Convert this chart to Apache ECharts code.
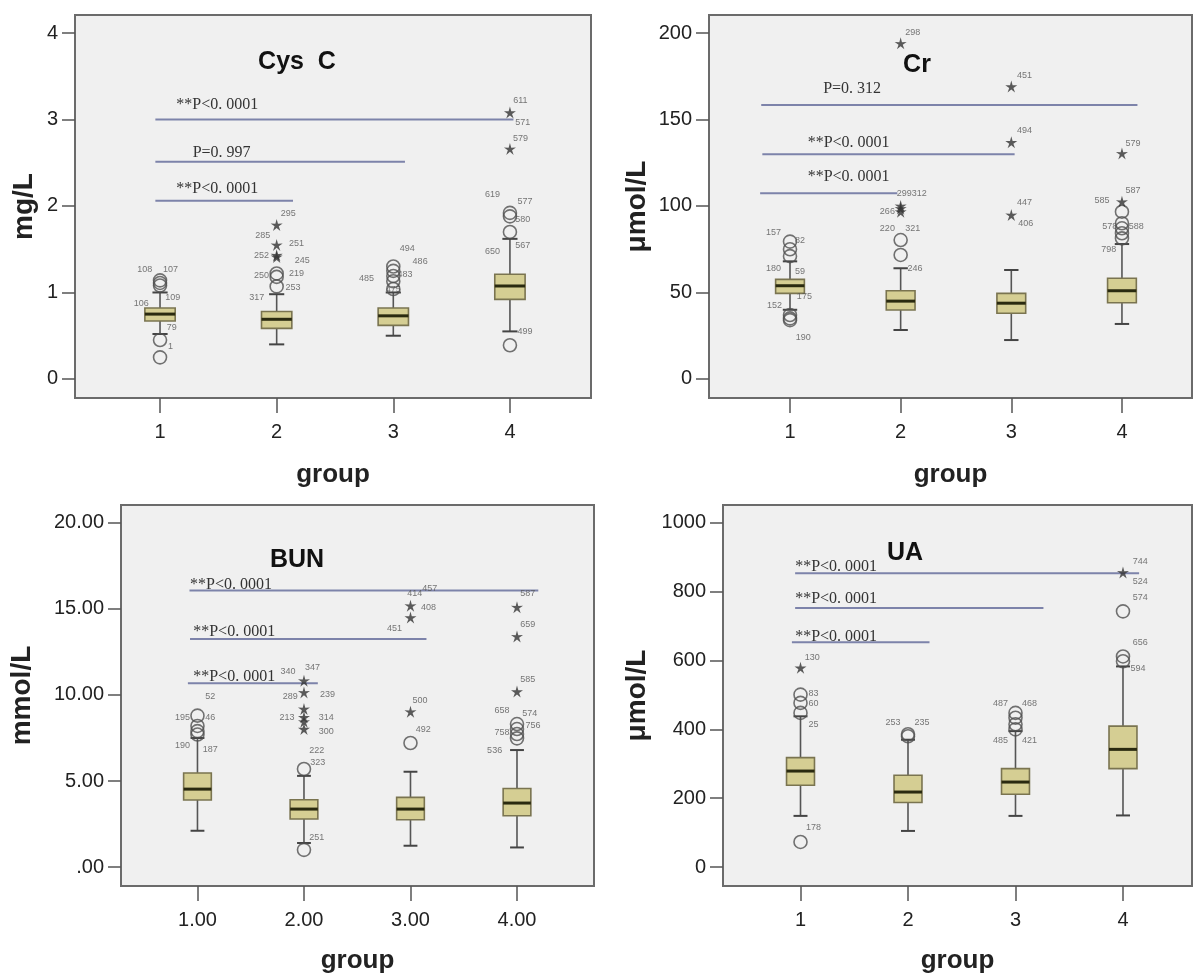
<!DOCTYPE html>
<html><head><meta charset="utf-8">
<script src="https://cdn.jsdelivr.net/npm/echarts@6/dist/echarts.min.js"></script>
<style>html,body{margin:0;padding:0;background:#fff}#c{width:1193px;height:975px}</style>
</head><body><div id="c"></div>
<script>
const groups = [1, 2, 3, 4];

// ---- Cys C (mg/L) ----  box rows: [group, low, q1, median, q3, high]
const cysBoxes = [[1,0.52,0.67,0.75,0.82,1.00],[2,0.40,0.585,0.69,0.78,0.98],[3,0.50,0.62,0.73,0.82,1.00],[4,0.55,0.92,1.075,1.21,1.62]];
const cysCircles = [[1,1.08],[1,1.11],[1,1.14],[1,0.45],[1,0.25],[2,1.07],[2,1.18],[2,1.22],[3,1.04],[3,1.13],[3,1.19],[3,1.25],[3,1.30],[4,1.70],[4,1.88],[4,1.92],[4,0.39]];
const cysStars = [[2,1.78],[2,1.55],[2,1.43],[2,1.41],[4,3.08],[4,2.66]];
const cysLabels = [[0.87,1.27,'108'],[1.09,1.27,'107'],[1.11,0.94,'109'],[0.84,0.87,'106'],[1.10,0.59,'79'],[1.09,0.37,'1'],
 [2.10,1.91,'295'],[1.88,1.66,'285'],[2.17,1.57,'251'],[1.87,1.43,'252'],[2.22,1.37,'245'],[1.87,1.20,'250'],[2.17,1.22,'219'],[2.14,1.06,'253'],[1.83,0.94,'317'],
 [3.12,1.51,'494'],[3.23,1.36,'486'],[3.10,1.21,'483'],[2.77,1.16,'485'],[3.0,1.04,'475'],
 [4.09,3.22,'611'],[4.11,2.96,'571'],[4.09,2.78,'579'],[3.85,2.13,'619'],[4.13,2.05,'577'],[4.11,1.84,'580'],[3.85,1.47,'650'],[4.11,1.54,'567'],[4.13,0.55,'499']];
// tests: [fromX, toX, y, text, textLeftX, textY]
const cysTests = [[0.96,4.03,3.0,'**P<0. 0001',1.14,3.17],[0.96,3.10,2.51,'P=0. 997',1.28,2.61],[0.96,2.14,2.06,'**P<0. 0001',1.14,2.2]];
const cysYTicks = [0,1,2,3,4];

// ---- Cr (μmol/L) ----
const crBoxes = [[1,40,49.5,53.9,57.6,68],[2,28.3,39.9,45,51,64],[3,22.5,38,43.8,49.5,63],[4,31.8,44.1,51,58.2,78]];
const crCircles = [[1,79.4],[1,75],[1,71],[1,37],[1,35],[1,34],[2,80.3],[2,71.7],[4,96.7],[4,90],[4,87.1],[4,84.2],[4,81.3]];
const crStars = [[2,194],[2,100],[2,98.6],[2,96.7],[3,169],[3,136.8],[3,94.8],[4,130.4],[4,102.5]];
const crLabels = [[0.85,84.4,'157'],[1.09,80.3,'82'],[0.85,64,'180'],[1.09,62,'59'],[1.13,47.6,'175'],[0.86,42.2,'152'],[1.12,23.7,'190'],
 [2.11,200,'298'],[2.10,107,'299312'],[1.88,96.7,'266'],[1.88,86.7,'220'],[2.11,86.7,'321'],[2.13,64,'246'],
 [3.12,175.7,'451'],[3.12,143.4,'494'],[3.12,102,'447'],[3.13,89.6,'406'],
 [4.10,136.2,'579'],[4.10,109.2,'587'],[3.82,102.9,'585'],[3.89,88,'578'],[4.13,88,'588'],[3.88,74.6,'798']];
const crTests = [[0.74,4.14,158.4,'P=0. 312',1.30,167.6],[0.75,3.03,129.9,'**P<0. 0001',1.16,136.6],[0.73,1.97,107.3,'**P<0. 0001',1.16,117]];
const crYTicks = [0,50,100,150,200];

// ---- BUN (mmol/L) ----
const bunBoxes = [[1,2.11,3.9,4.53,5.47,7.5],[2,1.4,2.79,3.37,3.91,5.3],[3,1.24,2.75,3.37,4.05,5.54],[4,1.14,2.98,3.72,4.57,6.8]];
const bunCircles = [[1,8.8],[1,8.2],[1,7.9],[1,7.7],[2,5.7],[2,1.0],[3,7.21],[4,8.31],[4,8.02],[4,7.73],[4,7.48]];
const bunStars = [[2,10.83],[2,10.15],[2,9.19],[2,8.7],[2,8.45],[2,8.02],[3,15.19],[3,14.5],[3,9.03],[4,15.1],[4,13.4],[4,10.2]];
const bunLabels = [[1.12,9.93,'52'],[0.86,8.7,'195'],[1.12,8.7,'46'],[0.86,7.05,'190'],[1.12,6.86,'187'],
 [1.85,11.38,'340'],[2.08,11.6,'347'],[1.87,9.93,'289'],[2.22,10.0,'239'],[1.84,8.7,'213'],[2.21,8.7,'314'],[2.21,7.87,'300'],[2.12,6.76,'222'],[2.13,6.1,'323'],[2.12,1.74,'251'],
 [3.04,15.87,'414'],[3.18,16.2,'457'],[3.17,15.1,'408'],[2.85,13.87,'451'],[3.09,9.67,'500'],[3.12,8.02,'492'],
 [4.10,15.9,'587'],[4.10,14.1,'659'],[4.10,10.9,'585'],[3.86,9.09,'658'],[4.12,8.9,'574'],[3.86,7.8,'758'],[4.15,8.2,'756'],[3.79,6.8,'536']];
const bunTests = [[0.925,4.2,16.07,'**P<0. 0001',0.93,16.4],[0.93,3.15,13.26,'**P<0. 0001',0.96,13.7],[0.91,2.13,10.68,'**P<0. 0001',0.96,11.05]];
const bunYTicks = [0,5,10,15,20];

// ---- UA (μmol/L) ----
const uaBoxes = [[1,148.7,237.7,279,318,438],[2,105,187.5,218,266.7,370],[3,148.7,211.6,247,286,395],[4,150,286,342,409.6,583]];
const uaCircles = [[1,501],[1,477],[1,448],[1,73],[2,386],[2,380],[3,448],[3,434],[3,415],[3,400],[4,743],[4,612],[4,598]];
const uaStars = [[1,579],[4,856]];
const uaLabels = [[1.11,610,'130'],[1.12,504,'83'],[1.12,475,'60'],[1.12,414,'25'],[1.12,115,'178'],[1.86,419,'253'],[2.13,421,'235'],
 [2.86,475,'487'],[3.13,475,'468'],[2.86,369,'485'],[3.13,369,'421'],
 [4.16,888,'744'],[4.16,830,'524'],[4.16,782,'574'],[4.16,651,'656'],[4.14,577,'594']];
const uaTests = [[0.95,4.15,854,'**P<0. 0001',0.95,873],[0.95,3.26,752.7,'**P<0. 0001',0.95,779],[0.92,2.2,653,'**P<0. 0001',0.95,668]];
const uaYTicks = [0,200,400,600,800,1000];

const FONT = '"Liberation Sans", Arial, sans-serif';
const SERIF = '"Liberation Serif", "Times New Roman", serif';
const STAR = 'path://M0,-10 L2.06,-2.83 L9.51,-3.09 L3.33,1.08 L5.88,8.09 L0,3.5 L-5.88,8.09 L-3.33,1.08 L-9.51,-3.09 L-2.06,-2.83 Z';

const intFmt = v => String(v);
const bunFmt = v => v === 0 ? '.00' : v.toFixed(2);

const panels = [
 {name:'Cys  C', yName:'mg/L', boxes:cysBoxes, circles:cysCircles, stars:cysStars, labels:cysLabels, tests:cysTests, yTicks:cysYTicks,
  xFmt:intFmt, yFmt:intFmt, grid:[75,15,516,383], xr:[0.271,4.695], yr:[-0.22,4.208], title:[297,62], xGap:64, yGap:37},
 {name:'Cr', yName:'μmol/L', boxes:crBoxes, circles:crCircles, stars:crStars, labels:crLabels, tests:crTests, yTicks:crYTicks,
  xFmt:intFmt, yFmt:intFmt, grid:[709,15,483,383], xr:[0.268,4.633], yr:[-11,210.4], title:[917,65], xGap:64, yGap:58},
 {name:'BUN', yName:'mmol/L', boxes:bunBoxes, circles:bunCircles, stars:bunStars, labels:bunLabels, tests:bunTests, yTicks:bunYTicks,
  xFmt:v=>v.toFixed(2), yFmt:bunFmt, grid:[121,505,473,382], xr:[0.282,4.723], yr:[-1.10,21.04], title:[297,560], xGap:62, yGap:85},
 {name:'UA', yName:'μmol/L', boxes:uaBoxes, circles:uaCircles, stars:uaStars, labels:uaLabels, tests:uaTests, yTicks:uaYTicks,
  xFmt:intFmt, yFmt:intFmt, grid:[723,505,469,382], xr:[0.279,4.642], yr:[-55,1052], title:[905,553], xGap:62, yGap:72}
];

function renderBox(params, api) {
  const g = api.value(0);
  const lo = api.coord([g, api.value(1)]), q1 = api.coord([g, api.value(2)]), md = api.coord([g, api.value(3)]);
  const q3 = api.coord([g, api.value(4)]), hi = api.coord([g, api.value(5)]);
  const w = api.size([0.26, 0])[0], hw = w / 2, cw = w / 4, x = lo[0];
  const ws = {stroke:'#555', lineWidth:1.6};
  return {type:'group', children:[
    {type:'line', shape:{x1:x, y1:hi[1], x2:x, y2:q3[1]}, style:ws},
    {type:'line', shape:{x1:x, y1:q1[1], x2:x, y2:lo[1]}, style:ws},
    {type:'line', shape:{x1:x-cw, y1:hi[1], x2:x+cw, y2:hi[1]}, style:{stroke:'#444', lineWidth:2}},
    {type:'line', shape:{x1:x-cw, y1:lo[1], x2:x+cw, y2:lo[1]}, style:{stroke:'#444', lineWidth:2}},
    {type:'rect', shape:{x:x-hw, y:q3[1], width:w, height:q1[1]-q3[1]}, style:{fill:'#d5ce93', stroke:'#7a7450', lineWidth:1.6}},
    {type:'line', shape:{x1:x-hw, y1:md[1], x2:x+hw, y2:md[1]}, style:{stroke:'#2a2a10', lineWidth:3}}
  ]};
}
function makeTest(tests) {
  return function(params, api) {
    const t = tests[params.dataIndex];
    const a = api.coord([t[0], t[2]]), b = api.coord([t[1], t[2]]), p = api.coord([t[4], t[5]]);
    return {type:'group', children:[
      {type:'line', shape:{x1:a[0], y1:a[1], x2:b[0], y2:b[1]}, style:{stroke:'#7d83aa', lineWidth:2}},
      {type:'text', x:p[0], y:p[1], style:{text:t[3], font:'16px ' + SERIF, fill:'#333',
        align:'left', verticalAlign:'middle', textAlign:'left', textVerticalAlign:'middle'}}
    ]};
  };
}

const option = {animation:false, backgroundColor:'#ffffff', grid:[], xAxis:[], yAxis:[], series:[], graphic:[]};
panels.forEach((p, i) => {
  option.grid.push({left:p.grid[0], top:p.grid[1], width:p.grid[2], height:p.grid[3], show:true,
    backgroundColor:'#f0f0f0', borderColor:'#6b6b6b', borderWidth:2});
  option.xAxis.push({gridIndex:i, type:'value', min:p.xr[0], max:p.xr[1], position:'bottom',
    axisLine:{show:false, onZero:false}, splitLine:{show:false},
    axisTick:{show:true, customValues:groups, length:15, lineStyle:{color:'#555', width:1.5}},
    axisLabel:{customValues:groups, formatter:p.xFmt, margin:24, fontSize:20, color:'#222', fontFamily:FONT},
    name:'group', nameLocation:'middle', nameGap:p.xGap,
    nameTextStyle:{fontSize:26, fontWeight:'bold', color:'#222', fontFamily:FONT}});
  option.yAxis.push({gridIndex:i, type:'value', min:p.yr[0], max:p.yr[1], position:'left',
    axisLine:{show:false, onZero:false}, splitLine:{show:false},
    axisTick:{show:true, customValues:p.yTicks, length:13, lineStyle:{color:'#555', width:1.5}},
    axisLabel:{customValues:p.yTicks, formatter:p.yFmt, margin:17, fontSize:20, color:'#222', fontFamily:FONT},
    name:p.yName, nameLocation:'middle', nameGap:p.yGap,
    nameTextStyle:{fontSize:28, fontWeight:'bold', color:'#222', fontFamily:FONT}});
  option.series.push({type:'custom', xAxisIndex:i, yAxisIndex:i, data:p.boxes, renderItem:renderBox, z:2});
  option.series.push({type:'custom', xAxisIndex:i, yAxisIndex:i, data:p.tests.map(t => [t[0], t[2]]), renderItem:makeTest(p.tests), z:3});
  option.series.push({type:'scatter', xAxisIndex:i, yAxisIndex:i, data:p.circles, symbol:'circle', symbolSize:13,
    itemStyle:{color:'rgba(0,0,0,0)', borderColor:'#505050', borderWidth:1.6}, z:4});
  option.series.push({type:'scatter', xAxisIndex:i, yAxisIndex:i, data:p.stars, symbol:STAR, symbolSize:12,
    itemStyle:{color:'#333'}, z:4});
  option.series.push({type:'scatter', xAxisIndex:i, yAxisIndex:i, symbolSize:0,
    data:p.labels.map(l => ({value:[l[0], l[1]], name:l[2]})),
    label:{show:true, position:'inside', formatter:'{b}', fontSize:9, color:'#555', fontFamily:FONT}, z:5});
  option.graphic.push({type:'text', x:p.title[0], y:p.title[1], z:10,
    style:{text:p.name, font:'bold 25px ' + FONT, fill:'#111', align:'center', verticalAlign:'middle',
      textAlign:'center', textVerticalAlign:'middle'}});
});

const chart = echarts.init(document.getElementById('c'));
chart.setOption(option);
</script>
</body></html>
